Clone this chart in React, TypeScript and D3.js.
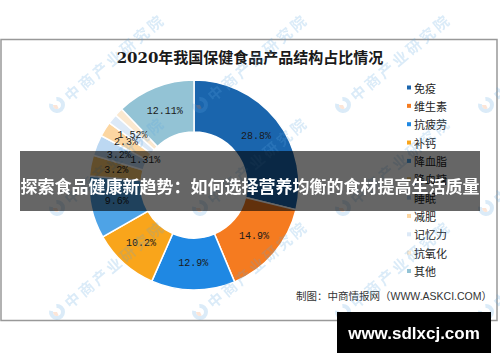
import { useEffect, useRef } from "react";
import * as d3 from "d3";

// chart data
const categories = ["免疫", "维生素", "抗疲劳", "补钙", "降血脂", "降血糖", "睡眠", "减肥", "记忆力", "抗氧化", "其他"];
const shares = [28.8, 14.9, 12.9, 10.2, 9.6, 3.2, 3.2, 2.3, 1.52, 1.31, 12.11];
const shareLabels = ["28.8%", "14.9%", "12.9%", "10.2%", "9.6%", "3.2%", "3.2%", "2.3%", "1.52%", "1.31%", "12.11%"];
const colors = ["#1a65ad", "#f57b20", "#1f88e3", "#f9a51b", "#4ea3e6", "#f4c26c", "#bcd8f2", "#fcd6a1", "#dce9f7", "#fbe8cf", "#93c3d5"];

// label nudges for the crowded small slices (px)
const labelNudge: Record<string, [number, number]> = {
  "睡眠": [-2, 0],
  "减肥": [-1, -1],
  "抗氧化": [8, 30],
};

const title = "2020年我国保健食品产品结构占比情况";
const source = "制图：中商情报网（WWW.ASKCI.COM）";
const banner = "探索食品健康新趋势：如何选择营养均衡的食材提高生活质量";
const site = "www.sdlxcj.com";
const watermark = "中商产业研究院";

export default function App() {
  const ref = useRef<SVGSVGElement | null>(null);

  useEffect(() => {
    if (!ref.current) return;
    const svg = d3.select(ref.current);
    svg.selectAll("*").remove();

    const width = 500, height = 362;
    const cx = 194, cy = 185;
    const outerR = 105, innerR = 53;
    const cjk = "'Noto Sans CJK SC', sans-serif";

    svg.append("rect").attr("width", width).attr("height", height).attr("fill", "#fff");

    // frame
    svg.append("rect")
      .attr("x", 1).attr("y", 39.5).attr("width", 496).attr("height", 281)
      .attr("fill", "none").attr("stroke", "#999").attr("stroke-width", 1.5);

    svg.append("text")
      .attr("x", 250).attr("y", 58)
      .attr("text-anchor", "middle").attr("dominant-baseline", "central")
      .attr("font-family", "'DejaVu Serif', 'Noto Sans CJK SC', serif")
      .attr("font-weight", "bold").attr("font-size", 15).attr("fill", "#1a1a1a")
      .text(title);

    const data = categories.map((c, i) => ({ name: c, value: shares[i], label: shareLabels[i], color: colors[i] }));
    const pie = d3.pie<typeof data[number]>().sort(null).value(d => d.value);
    const arcs = pie(data);
    const arc = d3.arc<d3.PieArcDatum<typeof data[number]>>().innerRadius(innerR).outerRadius(outerR);
    const labelArc = d3.arc<d3.PieArcDatum<typeof data[number]>>()
      .innerRadius((innerR + outerR) / 2).outerRadius((innerR + outerR) / 2);

    const g = svg.append("g").attr("transform", `translate(${cx},${cy})`);
    g.selectAll("path")
      .data(arcs)
      .join("path")
      .attr("d", arc)
      .attr("fill", d => d.data.color)
      .attr("stroke", "#fff")
      .attr("stroke-width", 1.5);

    g.selectAll("text")
      .data(arcs)
      .join("text")
      .attr("transform", d => {
        const [x, y] = labelArc.centroid(d);
        const [dx, dy] = labelNudge[d.data.name] || [0, 0];
        return `translate(${x + dx},${y + dy})`;
      })
      .attr("text-anchor", "middle").attr("dominant-baseline", "central")
      .attr("font-family", "'Liberation Mono', monospace")
      .attr("font-size", 10).attr("fill", "#1a1a1a")
      .text(d => d.data.label);

    // legend
    const ly = d3.scalePoint<string>().domain(categories).range([87.5, 271]);
    const leg = svg.append("g");
    const items = leg.selectAll("g").data(data).join("g")
      .attr("transform", d => `translate(407,${ly(d.name)})`);
    items.append("rect").attr("x", 0).attr("y", -2).attr("width", 4).attr("height", 4).attr("fill", d => d.color);
    items.append("text")
      .attr("x", 7).attr("dominant-baseline", "central")
      .attr("font-family", cjk).attr("font-size", 11).attr("fill", "#222")
      .text(d => d.name);

    svg.append("text")
      .attr("x", 492).attr("y", 296)
      .attr("text-anchor", "end").attr("dominant-baseline", "central")
      .attr("font-family", "'Liberation Sans', 'Noto Sans CJK SC', sans-serif")
      .attr("font-size", 10.5).attr("fill", "#333")
      .text(source);

    // watermarks
    const wmCols = [57, 200, 343, 486];
    const wmRows = [105, 208, 312];
    const wm = svg.append("g").attr("opacity", 0.22);
    wmCols.forEach(x => wmRows.forEach(y => {
      const w = wm.append("g").attr("transform", `translate(${x},${y}) rotate(-40)`);
      w.append("path")
        .attr("d", d3.arc()({ innerRadius: 4, outerRadius: 8, startAngle: 0.6, endAngle: 5.6 } as any))
        .attr("fill", "#5aa6e0");
      w.append("path")
        .attr("d", d3.arc()({ innerRadius: 0, outerRadius: 4, startAngle: 3.4, endAngle: 5.4 } as any))
        .attr("fill", "#f2884a");
      w.append("text")
        .attr("x", 12).attr("dominant-baseline", "central")
        .attr("font-family", cjk).attr("font-weight", "bold").attr("font-size", 15)
        .attr("letter-spacing", 3).attr("fill", "#5aa6e0")
        .text(watermark);
    }));

    // banner overlay
    svg.append("rect")
      .attr("x", 20).attr("y", 151).attr("width", 460).attr("height", 60)
      .attr("fill", "#000").attr("opacity", 0.6);
    svg.append("text")
      .attr("x", 250).attr("y", 185)
      .attr("text-anchor", "middle").attr("dominant-baseline", "central")
      .attr("font-family", cjk).attr("font-weight", "bold").attr("font-size", 17)
      .attr("fill", "#fff")
      .text(banner);

    svg.append("rect")
      .attr("x", 337).attr("y", 312).attr("width", 154).attr("height", 41)
      .attr("fill", "#000");
    svg.append("text")
      .attr("x", 414).attr("y", 333)
      .attr("text-anchor", "middle").attr("dominant-baseline", "central")
      .attr("font-family", "'Liberation Sans', sans-serif").attr("font-weight", "bold")
      .attr("font-size", 17).attr("fill", "#fff")
      .text(site);
  }, []);

  return (
    <svg ref={ref} width={500} height={362} style={{ position: "absolute", left: 0, top: 0 }} />
  );
}
